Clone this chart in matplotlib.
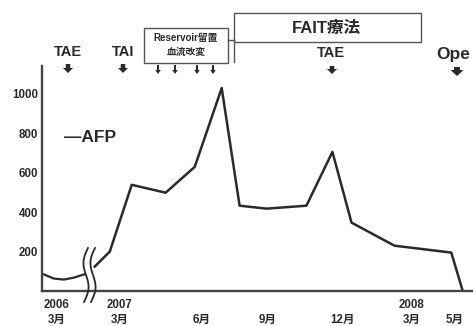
import numpy as np
import matplotlib
matplotlib.use('Agg')
import matplotlib.pyplot as plt
from matplotlib.patches import Rectangle, FancyArrow
from matplotlib.lines import Line2D

plt.rcParams['font.family'] = ['Liberation Sans', 'Noto Sans CJK JP', 'DejaVu Sans']
plt.rcParams['font.weight'] = 'bold'

# months counted from 2007/3 (2006 part is compressed before the break)
x_2006 = [-3.18, -2.76, -2.34, -1.92, -1.50]
afp_2006 = [84, 63, 58, 68, 84]
x_2007 = [-1.05, -0.42, 0.50, 1.92, 3.14, 4.27, 5.02, 6.15, 7.82, 8.91, 9.71, 11.51, 13.89, 14.35]
afp_2007 = [124, 200, 539, 499, 630, 1030, 433, 418, 433, 706, 347, 230, 195, 8]

tick_pos = [-2.64, 0, 3.43, 6.19, 9.33, 12.22, 14.02]
tick_lab = ['2006\n3月', '2007\n3月', '\n6月', '\n9月', '\n12月', '2008\n3月', '\n5月']
y_ticks = [200, 400, 600, 800, 1000]

W, H = 473, 326
ink = '#2a2a2a'

fig = plt.figure(figsize=(W / 100, H / 100), dpi=100)
ax = fig.add_axes([42 / W, (H - 291) / H, (W - 42) / W, (291 - 66) / H])
ax.plot(x_2006, afp_2006, color=ink, lw=1.6)
ax.plot(x_2007, afp_2007, color=ink, lw=1.8)
ax.set_xlim(-3.26, 14.8)
ax.set_ylim(0, 1142)
ax.set_yticks(y_ticks)
ax.set_yticklabels([str(v) for v in y_ticks], fontsize=8.3, color=ink)
ax.set_xticks(tick_pos)
ax.set_xticklabels(tick_lab, fontsize=8.3, color=ink, linespacing=1.25)
ax.tick_params(axis='y', length=0, pad=3)
ax.tick_params(axis='x', length=0, pad=6)
for s in ['top', 'right']:
    ax.spines[s].set_visible(False)
for s in ['left', 'bottom']:
    ax.spines[s].set_linewidth(1.7)
    ax.spines[s].set_color('#444444')


def fx(px):
    return px / W


def fy(py):
    return 1 - py / H


# axis break marks
t = np.linspace(0, 1, 40)
for x0 in [88, 95]:
    bx = x0 - 4 * t - 3.5 * np.sin(2 * np.pi * t)
    by = 248 + 54 * t
    fig.add_artist(Line2D(fx(bx), fy(by), color=ink, lw=1.3))

ax.text(0.05, 0.66, '—AFP', transform=ax.transAxes, fontsize=12.5, color=ink)

# treatment labels and arrows
labels = [('TAE', 68, 52, 10.5), ('TAI', 123, 52, 10.5), ('TAE', 331, 53, 10.5), ('Ope', 453, 54, 12.5)]
for txt, px, py, fs in labels:
    fig.text(fx(px), fy(py), txt, fontsize=fs, color=ink, ha='center', va='center')


def arrow(px, top, bot, stem, head, hl):
    fig.add_artist(FancyArrow(fx(px), fy(top), 0, fy(bot) - fy(top), width=stem / W,
                              head_width=head / W, head_length=hl / H,
                              length_includes_head=True, color=ink, lw=0))


arrow(68, 64, 73, 4.5, 10, 5)
arrow(123, 64, 73, 4.5, 10, 5)
arrow(332, 66, 74, 4.5, 10, 5)
arrow(457, 67, 76, 6, 13, 6)
for px in [158, 175, 197, 213]:
    arrow(px, 65, 74, 2, 5.5, 4)

# treatment period boxes
fig.add_artist(Rectangle((fx(144), fy(63)), (228 - 144) / W, (63 - 28) / H,
                         fill=False, ec='#555555', lw=1.0))
fig.text(fx(186), fy(38), 'Reservoir留置', fontsize=7, color=ink, ha='center', va='center')
fig.text(fx(186), fy(52), '血流改変', fontsize=7, color=ink, ha='center', va='center')

fig.add_artist(Rectangle((fx(234), fy(42)), (421 - 234) / W, (42 - 13) / H,
                         fill=False, ec='#555555', lw=1.0))
fig.add_artist(Line2D([fx(234), fx(234)], [fy(42), fy(62)], color='#555555', lw=1.0))
fig.add_artist(Line2D([fx(228), fx(234)], [fy(40), fy(40)], color='#555555', lw=1.0))
fig.text(fx(326), fy(28), 'FAIT療法', fontsize=12, color=ink, ha='center', va='center')

fig.savefig('out.png', dpi=100, facecolor='white')
